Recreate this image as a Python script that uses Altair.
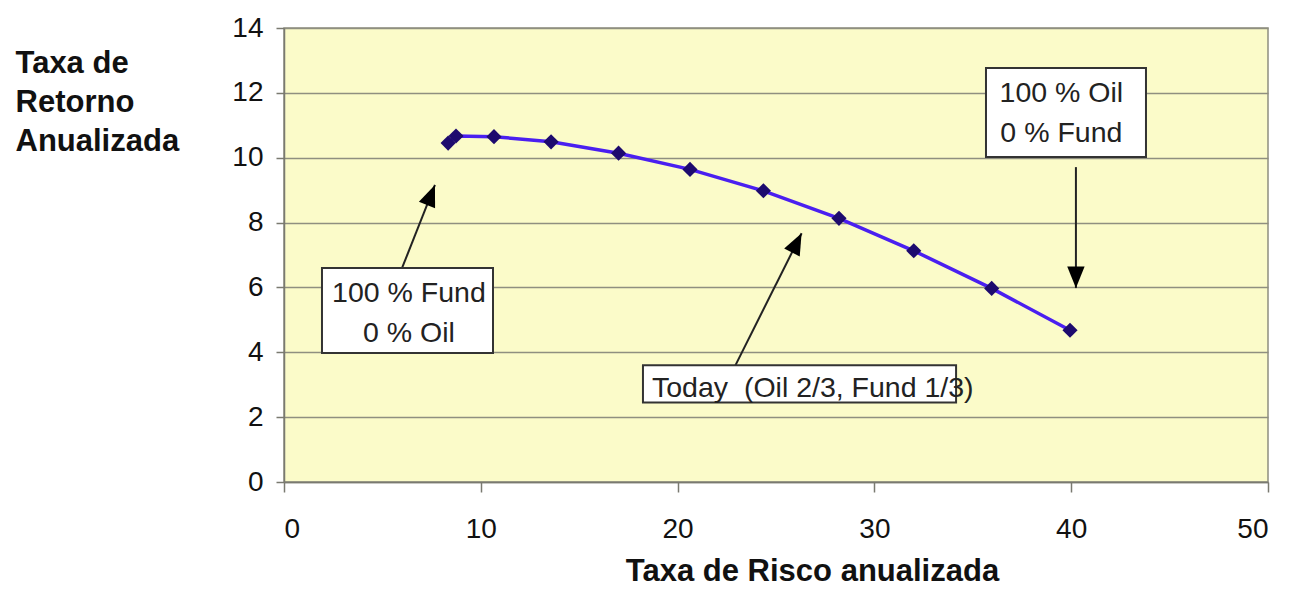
import altair as alt
import pandas as pd

# ---- data ----
risk = [8.34, 8.74, 10.67, 13.57, 17.0, 20.63, 24.36, 28.2, 32.0, 35.96, 39.94]
ret = [10.45, 10.67, 10.65, 10.49, 10.14, 9.64, 8.98, 8.13, 7.13, 5.97, 4.68]

# annotation boxes: x1, x2, y1, y2 (data units)
box_x1 = [1.93, 18.24, 35.67]
box_x2 = [10.62, 34.15, 43.8]
box_y1 = [3.98, 2.45, 10.02]
box_y2 = [6.6, 3.6, 12.77]

# annotation texts
txt_x = [6.35, 18.7, 39.5]
txt_y = [5.55, 2.62, 11.72]
txt_lines = [["100 % Fund", "0 % Oil"], ["Today\u00a0\u00a0(Oil 2/3, Fund 1/3)"], ["100 % Oil", "0 % Fund"]]
txt_align = ["center", "left", "center"]

# arrows: start -> tip
arr_x1 = [6.0, 22.9, 40.24]
arr_y1 = [6.6, 3.55, 9.71]
arr_x2 = [7.67, 26.3, 40.24]
arr_y2 = [9.16, 7.67, 5.98]
arr_angle = [21.7, 26.6, 180]

FONT = "Liberation Sans"

df_line = pd.DataFrame({"risk": risk, "ret": ret, "order": list(range(len(risk)))})
df_box = pd.DataFrame({"x1": box_x1, "x2": box_x2, "y1": box_y1, "y2": box_y2})
df_arr = pd.DataFrame({"x1": arr_x1, "y1": arr_y1, "x2": arr_x2, "y2": arr_y2, "angle": arr_angle})

xscale = alt.Scale(domain=[0, 50], nice=False, zero=False)
yscale = alt.Scale(domain=[0, 14], nice=False, zero=False)

xaxis = alt.Axis(
    values=[0, 10, 20, 30, 40, 50], grid=False, tickSize=10, tickColor="#7a7a70", tickWidth=1.5,
    domainColor="#7a7a70", domainWidth=1.5,
    labelFont=FONT, labelFontSize=28, labelColor="#111", labelPadding=23, labelBaseline="top",
    title="Taxa de Risco anualizada", titleFont=FONT, titleFontSize=31, titleFontWeight="bold",
    titleColor="#111", titleX=528, titleY=98, titleAlign="center", titleBaseline="alphabetic",
    titleAnchor="start",
)
yaxis = alt.Axis(
    values=[0, 2, 4, 6, 8, 10, 12, 14], grid=True, gridColor="#8f8f80", gridWidth=1.5,
    tickSize=8, tickColor="#7a7a70", tickWidth=1.5, domainColor="#7a7a70", domainWidth=1.5,
    labelFont=FONT, labelFontSize=28, labelColor="#111", labelPadding=13,
    title=["Taxa de", "Retorno", "Anualizada"], titleFont=FONT, titleFontSize=31,
    titleFontWeight="bold", titleColor="#111", titleAngle=0, titleX=-269, titleY=44,
    titleAlign="left", titleBaseline="alphabetic", titleLineHeight=39, titleAnchor="start",
)

line = alt.Chart(df_line).mark_line(color="#4a1ff0", strokeWidth=3.5).encode(
    x=alt.X("risk:Q", scale=xscale, axis=xaxis),
    y=alt.Y("ret:Q", scale=yscale, axis=yaxis),
    order="order:Q",
)
pts = alt.Chart(df_line).mark_point(shape="diamond", filled=True, size=230, color="#1d0a6e", opacity=1).encode(
    x=alt.X("risk:Q", scale=xscale),
    y=alt.Y("ret:Q", scale=yscale),
)

boxes = alt.Chart(df_box).mark_rect(fill="white", stroke="#333333", strokeWidth=2).encode(
    x=alt.X("x1:Q", scale=xscale), x2="x2:Q",
    y=alt.Y("y1:Q", scale=yscale), y2="y2:Q",
)

texts = []
for i in range(len(txt_x)):
    d = pd.DataFrame({"x": [txt_x[i]], "y": [txt_y[i]], "t": [txt_lines[i]]})
    texts.append(
        alt.Chart(d).mark_text(font=FONT, fontSize=28.5, color="#222222", align=txt_align[i],
                               baseline="alphabetic", lineHeight=40).encode(
            x=alt.X("x:Q", scale=xscale), y=alt.Y("y:Q", scale=yscale), text="t"
        )
    )

rules = alt.Chart(df_arr).mark_rule(color="#222222", strokeWidth=2).encode(
    x=alt.X("x1:Q", scale=xscale), y=alt.Y("y1:Q", scale=yscale), x2="x2:Q", y2="y2:Q",
)
heads = alt.Chart(df_arr).mark_point(
    shape="M0,0 L-0.85,2.1 L0.85,2.1 Z", filled=True, size=420, color="#000000", opacity=1
).encode(
    x=alt.X("x2:Q", scale=xscale), y=alt.Y("y2:Q", scale=yscale),
    angle=alt.Angle("angle:Q", scale=None),
)

chart = alt.layer(line, pts, rules, heads, boxes, *texts).properties(
    width=984, height=454,
    autosize=alt.AutoSizeParams(type="none"),
    padding={"left": 276, "top": 20, "right": 14, "bottom": 106},
).configure_view(
    fill="#fbfbc9", stroke="#8f8f80", strokeWidth=1.5
)

chart.save("out.html", embed_options={"renderer": "svg", "actions": False})
